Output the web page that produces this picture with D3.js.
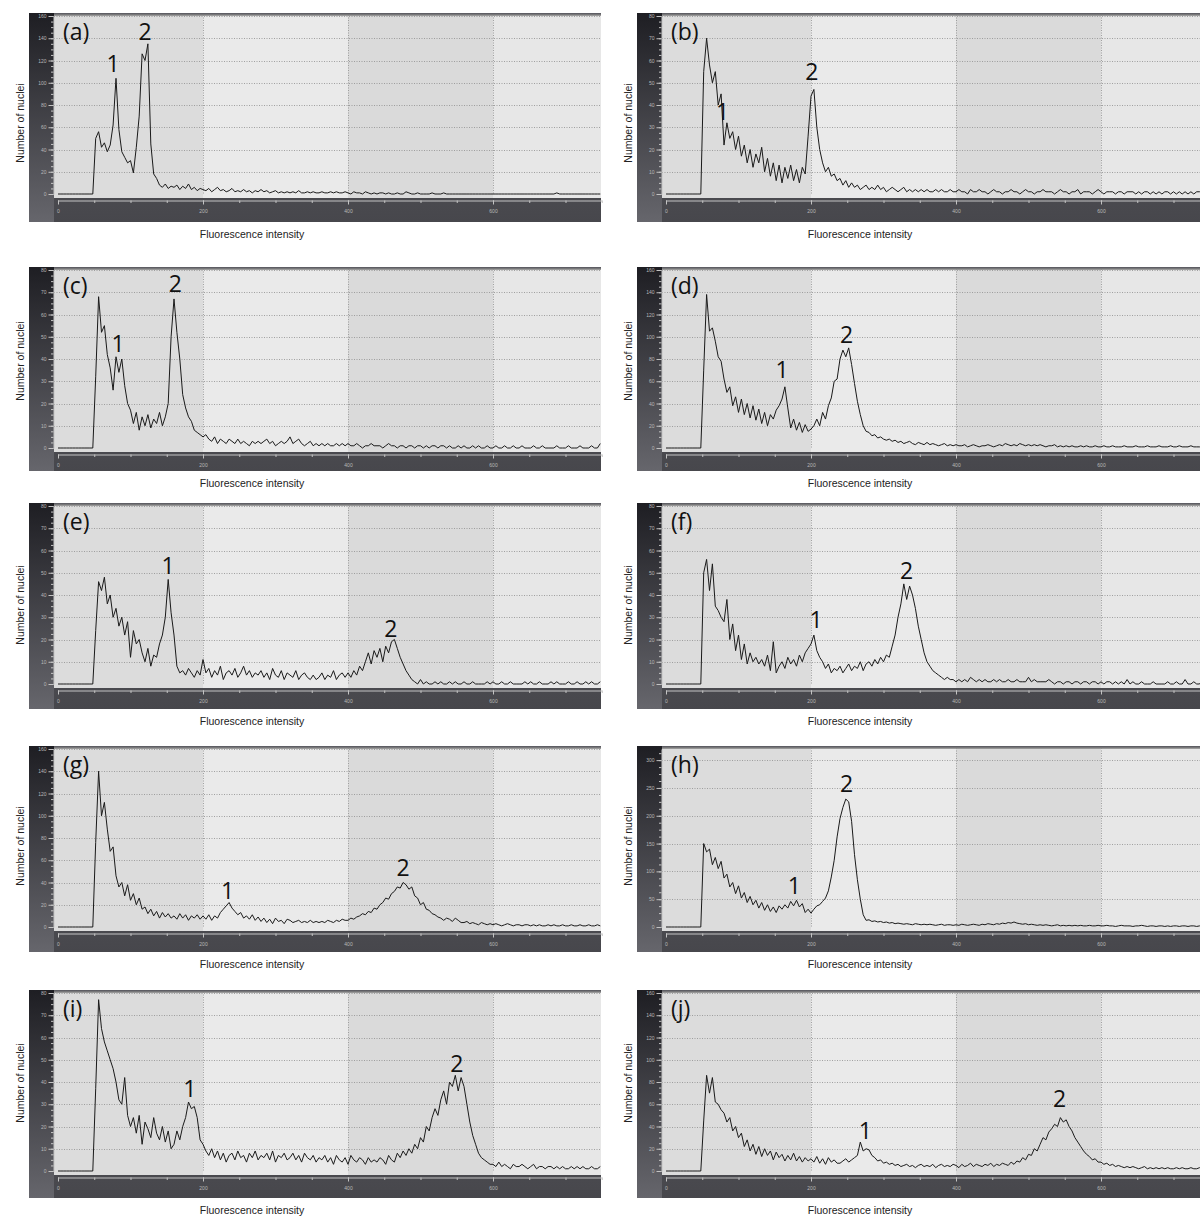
<!DOCTYPE html>
<html lang="en">
<head>
<meta charset="UTF-8">
<title>DNA content histograms</title>
<style>
  body { margin: 0; background: #fff; }
  svg { display: block; font-family: "Liberation Sans", Arial, sans-serif; }
  .grid line { stroke: #8e8e8e; stroke-width: 0.8; stroke-dasharray: 1,1.5; }
  .trace { fill: none; stroke: #1a1a1a; stroke-width: 1; stroke-linejoin: round; }
  .axis path, .axis line { stroke: #c4c4c4; }
  .axis text { fill: #b8b8b8; font-size: 5px; }
  .tag, .peak { font-family: "Open Sans", sans-serif; font-size: 23px; fill: #111; }
  .atitle { font-size: 10.5px; fill: #222; }
</style>
</head>
<body>
<svg id="chart" width="1200" height="1218"></svg>
<script src="https://d3js.org/d3.v7.min.js"></script>
<script>
// histogram channels: 0, 4, 8 ... 748
var channelStep = 4;
var xTicks = [0, 200, 400, 600];
var gridX = [200, 400, 600];
var bandEdges = [0, 200, 400, 600, 750];

var panelNames = ["(a)", "(b)", "(c)", "(d)", "(e)", "(f)", "(g)", "(h)", "(i)", "(j)"];
var yMaxes = [160, 80, 80, 160, 80, 80, 160, 320, 80, 160];
var yTickSteps = [20, 10, 10, 20, 10, 10, 20, 50, 10, 20];

var countsA = [
  0,0,0,0,0,0,0,0,0,0,
  0,0,0,50,56,42,46,38,44,62,
  104,58,38,33,28,30,19,42,70,126,
  120,135,45,18,14,8,6,9,5,7,
  6,8,4,7,5,9,4,6,3,5,
  4,3,5,2,4,6,3,4,2,3,
  5,2,3,2,4,2,3,1,3,2,
  4,2,3,1,2,3,1,2,1,2,
  1,2,1,3,1,1,2,1,2,1,
  1,2,1,1,2,1,2,1,1,2,
  1,0,2,1,1,0,2,1,0,1,
  0,1,1,0,1,0,0,1,0,0,
  2,1,0,0,1,0,0,0,0,1,
  0,0,0,1,0,0,0,0,0,0,
  0,0,0,0,0,0,0,0,0,0,
  0,0,0,0,0,0,0,0,0,0,
  0,0,0,0,0,0,0,0,0,0,
  0,0,1,0,0,0,0,0,0,0,
  0,0,0,0,0,0,0,0
];
var countsB = [
  0,0,0,0,0,0,0,0,0,0,
  0,0,0,55,70,58,50,55,40,45,
  22,32,25,28,20,26,17,22,14,20,
  12,18,14,21,10,16,8,14,6,13,
  5,12,7,13,6,11,5,12,9,26,
  44,47,30,20,14,10,12,8,9,6,
  7,4,6,3,5,3,4,2,3,4,
  2,3,2,4,2,3,1,2,3,2,
  1,2,3,1,2,1,2,1,2,1,
  2,1,1,2,1,2,1,1,2,1,
  1,2,1,1,0,2,1,1,2,1,
  1,0,1,2,1,1,0,1,1,2,
  1,1,0,1,2,1,1,0,1,1,
  2,1,1,1,0,1,2,1,1,0,
  1,1,2,0,1,1,1,0,1,2,
  1,0,1,1,1,0,1,1,0,1,
  1,1,0,1,0,1,1,0,1,0,
  1,0,1,1,0,1,0,1,0,1,
  0,1,0,1,1,0,1,0
];
var countsC = [
  0,0,0,0,0,0,0,0,0,0,
  0,0,0,32,68,52,55,42,36,26,
  41,34,40,28,20,17,11,16,8,14,
  10,15,9,13,11,16,10,14,20,50,
  67,52,40,24,18,14,12,8,7,6,
  5,6,4,3,5,2,4,3,2,4,
  3,2,4,2,3,2,1,3,2,3,
  2,3,4,2,3,1,2,3,2,3,
  5,2,3,4,2,1,2,3,1,2,
  1,2,1,2,1,1,2,1,2,1,
  2,1,1,2,1,0,1,1,2,1,
  1,1,0,1,2,1,1,0,1,1,
  0,1,1,0,1,1,0,1,0,1,
  1,0,1,1,0,1,0,0,1,0,
  1,0,0,1,0,1,0,0,1,0,
  0,1,0,0,1,0,0,1,0,0,
  1,0,0,0,1,0,0,1,0,0,
  0,0,1,0,0,0,1,0,0,0,
  1,0,0,0,1,0,0,2
];
var countsD = [
  0,0,0,0,0,0,0,0,0,0,
  0,0,0,70,138,105,108,96,82,78,
  62,50,55,38,46,32,44,30,40,27,
  38,25,35,22,32,20,30,26,34,38,
  44,55,36,18,26,16,23,14,21,15,
  17,20,26,20,32,26,38,45,60,62,
  80,88,82,90,75,58,42,30,20,15,
  14,11,12,9,10,8,7,8,6,7,
  5,6,4,5,6,4,3,5,4,3,
  5,3,4,3,2,3,4,2,3,2,
  3,2,2,3,1,2,3,2,1,2,
  2,3,2,1,2,3,2,4,3,2,
  3,2,4,3,2,3,2,3,2,3,
  2,1,2,2,3,1,2,1,2,1,
  2,1,1,2,1,2,1,1,2,1,
  1,2,1,1,2,1,1,1,2,1,
  1,1,2,1,1,1,2,1,1,1,
  2,1,1,1,2,1,1,2,1,1,
  1,2,1,1,1,2,1,1
];
var countsE = [
  0,0,0,0,0,0,0,0,0,0,
  0,0,0,24,46,42,48,36,40,30,
  34,26,30,22,28,12,24,18,20,14,
  10,16,8,13,12,18,22,30,47,32,
  22,8,5,6,4,7,5,3,6,4,
  11,5,7,3,6,4,8,2,5,6,
  4,7,3,5,8,4,6,3,5,4,
  6,3,5,2,7,4,3,6,2,5,
  4,3,6,2,4,5,3,2,4,2,
  3,5,2,4,3,6,2,4,5,3,
  5,3,6,4,8,6,10,14,9,15,
  12,16,10,17,14,19,20,16,12,9,
  6,4,2,1,0,2,0,1,0,0,
  1,0,1,0,0,1,0,1,0,0,
  1,0,0,1,0,0,0,0,1,0,
  1,0,0,1,0,0,1,0,0,0,
  0,1,0,1,0,0,1,0,0,0,
  1,0,1,0,0,0,1,0,0,1,
  0,0,1,0,1,0,0,1
];
var countsF = [
  0,0,0,0,0,0,0,0,0,0,
  0,0,0,50,56,42,54,35,33,30,
  28,38,20,27,15,22,11,18,9,14,
  10,12,9,11,8,13,6,19,5,8,
  10,7,12,9,11,8,13,10,14,16,
  18,22,15,12,10,7,9,5,7,6,
  8,5,7,9,6,8,7,10,6,9,
  10,8,11,9,12,10,13,12,17,22,
  30,36,45,38,44,40,34,26,20,14,
  10,8,6,5,4,3,2,3,2,2,
  1,2,1,2,1,3,2,1,2,1,
  2,1,1,2,1,2,1,1,2,1,
  1,2,1,1,1,3,1,2,1,1,
  1,1,2,1,0,1,1,0,1,1,
  0,1,1,0,1,1,0,1,1,0,
  1,0,1,1,0,1,0,1,0,2,
  0,1,0,0,1,0,0,0,1,0,
  0,0,0,1,0,0,1,0,0,2,
  0,0,1,0,0,2,0,0
];
var countsG = [
  0,0,0,0,0,0,0,0,0,0,
  0,0,0,76,140,100,112,88,68,72,
  46,36,40,28,38,24,30,20,26,16,
  18,12,16,10,14,8,13,9,12,8,
  10,7,12,8,11,6,10,8,11,7,
  10,7,11,6,10,8,13,16,19,22,
  17,14,11,13,8,10,7,11,6,9,
  5,8,4,7,3,8,5,6,3,7,
  6,4,5,6,4,5,4,6,4,5,
  4,5,4,6,5,4,6,5,7,6,
  6,8,7,9,10,12,11,14,13,17,
  16,20,22,26,25,30,32,36,35,40,
  38,34,36,28,26,20,22,16,15,12,
  11,9,8,6,8,7,5,8,6,4,
  4,5,3,4,3,2,4,3,2,3,
  2,3,2,1,2,3,2,1,2,2,
  1,2,2,1,2,1,2,1,1,2,
  1,2,1,1,2,1,1,2,1,1,
  2,1,1,2,1,1,2,1
];
var countsH = [
  0,0,0,0,0,0,0,0,0,0,
  0,0,0,150,135,140,112,125,105,118,
  88,95,72,80,60,74,52,62,44,55,
  40,48,34,44,30,40,28,36,26,38,
  32,40,34,46,38,48,36,42,26,32,
  25,32,38,40,46,52,65,90,120,162,
  195,215,230,225,190,130,85,50,22,12,
  13,10,11,9,10,8,9,7,8,6,
  7,6,5,6,5,4,6,5,4,5,
  4,5,4,3,4,5,3,4,4,3,
  4,3,5,4,3,4,5,4,3,5,
  4,6,5,4,6,5,7,6,8,7,
  9,7,6,5,6,4,5,4,3,4,
  3,4,3,2,3,4,2,3,2,3,
  2,3,2,3,2,2,3,2,2,3,
  2,2,3,2,2,1,2,3,2,2,
  2,1,2,2,3,2,1,2,2,1,
  2,2,1,2,1,2,2,1,2,2,
  1,2,2,1,2,1,2,2
];
var countsI = [
  0,0,0,0,0,0,0,0,0,0,
  0,0,0,37,77,64,58,54,50,46,
  40,32,30,42,25,20,24,17,25,12,
  22,19,15,24,17,14,20,13,18,10,
  12,18,14,20,24,31,28,29,24,14,
  12,9,7,10,6,9,5,8,4,7,
  8,5,9,6,7,4,8,6,9,5,
  7,6,8,5,9,4,7,6,8,5,
  6,8,5,7,4,8,6,5,7,4,
  6,5,7,4,6,3,7,5,4,6,
  3,7,5,4,6,5,3,6,4,5,
  4,6,5,3,7,5,4,8,6,9,
  7,10,8,12,10,15,13,20,18,24,
  28,25,32,36,30,40,38,43,36,42,
  38,30,22,16,12,8,6,5,4,3,
  3,2,4,2,3,2,1,3,2,2,
  3,2,1,2,3,1,2,2,1,2,
  2,1,2,1,2,1,1,2,1,2,
  1,2,1,1,2,1,1,2
];
var countsJ = [
  0,0,0,0,0,0,0,0,0,0,
  0,0,0,45,86,70,84,62,60,55,
  52,44,48,36,40,30,34,22,28,18,
  24,15,22,13,20,14,18,10,17,12,
  15,9,14,10,16,9,13,8,12,9,
  11,8,13,7,11,6,12,8,10,7,
  7,9,11,8,10,12,14,26,18,20,
  19,14,12,9,10,7,8,6,7,5,
  6,4,5,6,4,5,3,5,6,4,
  5,4,6,3,5,6,4,5,4,6,
  5,3,6,4,5,7,4,6,5,4,
  6,5,7,4,6,5,7,6,5,8,
  6,9,8,12,10,15,14,20,18,24,
  30,28,35,38,42,40,48,44,46,40,
  36,30,26,22,18,15,13,10,11,8,
  8,6,7,5,6,4,5,4,3,4,
  3,4,3,2,3,4,2,3,2,3,
  2,3,2,3,2,2,3,2,3,2,
  2,3,2,2,3,2,3,2
];

// peak markers "1" and "2": [channel, count] where the numbers sit
var peaksA = [[76, 117], [120, 146]];
var peaksB = [[78, 37], [201, 55]];
var peaksC = [[83, 47], [162, 74]];
var peaksD = [[160, 70], [249, 102]];
var peaksE = [[152, 53], [459, 25]];
var peaksF = [[207, 29], [332, 51]];
var peaksG = [[234, 33], [476, 53]];
var peaksH = [[177, 75], [249, 257]];
var peaksI = [[182, 37], [550, 48]];
var peaksJ = [[275, 36], [543, 65]];

var allCounts = [countsA, countsB, countsC, countsD, countsE, countsF, countsG, countsH, countsI, countsJ];
var allPeaks = [peaksA, peaksB, peaksC, peaksD, peaksE, peaksF, peaksG, peaksH, peaksI, peaksJ];

// page layout
var colX = [29, 637];
var rowY = [13, 267, 503, 746, 990];
var rowH = [209, 204, 206, 206, 208];
var yLabelMid = [123, 361, 605, 846, 1083];
var frameW = 572, stripW = 25;
var bandFills = ["#dcdcdc", "#eaeaea", "#dadada", "#e7e7e7"];

var svg = d3.select("#chart");
var defs = svg.append("defs");
var lg = defs.append("linearGradient").attr("id", "leftStrip")
    .attr("x1", 0).attr("y1", 0).attr("x2", 0).attr("y2", 1);
lg.append("stop").attr("offset", "0%").attr("stop-color", "#1e1e23");
lg.append("stop").attr("offset", "100%").attr("stop-color", "#66666c");
var bg = defs.append("linearGradient").attr("id", "bottomStrip")
    .attr("x1", 0).attr("y1", 0).attr("x2", 0).attr("y2", 1);
bg.append("stop").attr("offset", "0%").attr("stop-color", "#5e5e64");
bg.append("stop").attr("offset", "100%").attr("stop-color", "#47474c");

for (var i = 0; i < 10; i++) {
    plot(i);
}

function plot(i) {
    var col = i % 2, row = Math.floor(i / 2);
    var fx = colX[col], fy = rowY[row], fh = rowH[row];
    var yMax = yMaxes[i], yStep = yTickSteps[i];
    var plotLeft = fx + stripW, plotRight = fx + frameW;
    var plotTop = fy + 2, zeroY = fy + 181, plotBottom = fy + 185;

    var x = d3.scaleLinear().domain([0, 750]).range([fx + 29, fx + 29 + 750 * 0.725]);
    var y = d3.scaleLinear().domain([0, yMax]).range([zeroY, fy + 3]);

    var g = svg.append("g");

    // dark frame
    g.append("rect").attr("x", fx).attr("y", fy).attr("width", frameW).attr("height", fh)
        .attr("fill", "url(#bottomStrip)");
    g.append("rect").attr("x", fx).attr("y", fy).attr("width", stripW).attr("height", fh)
        .attr("fill", "url(#leftStrip)");

    // shaded bands of the plot area
    g.selectAll(".band").data(d3.range(bandEdges.length - 1)).enter().append("rect")
        .attr("x", function (k) { return k === 0 ? plotLeft : x(bandEdges[k]); })
        .attr("y", plotTop)
        .attr("width", function (k) {
            var x0 = k === 0 ? plotLeft : x(bandEdges[k]);
            return Math.min(x(bandEdges[k + 1]), plotRight) - x0;
        })
        .attr("height", plotBottom - plotTop)
        .attr("fill", function (k) { return bandFills[k]; });
    g.append("line").attr("x1", plotLeft).attr("x2", plotRight)
        .attr("y1", plotTop).attr("y2", plotTop)
        .attr("stroke", "#808080").attr("stroke-width", 1.5);

    // dotted grid
    var yt = d3.range(0, yMax + 0.01, yStep);
    var grid = g.append("g").attr("class", "grid");
    grid.selectAll(".h").data(yt.slice(1)).enter().append("line")
        .attr("x1", plotLeft).attr("x2", plotRight)
        .attr("y1", function (d) { return Math.round(y(d)) + 0.5; })
        .attr("y2", function (d) { return Math.round(y(d)) + 0.5; });
    grid.selectAll(".v").data(gridX).enter().append("line")
        .attr("x1", function (d) { return Math.round(x(d)) + 0.5; })
        .attr("x2", function (d) { return Math.round(x(d)) + 0.5; })
        .attr("y1", plotTop).attr("y2", zeroY);

    // axes in the dark strips
    g.append("g").attr("class", "axis")
        .attr("transform", "translate(" + (plotLeft - 0.5) + ",0)")
        .call(d3.axisLeft(y).tickValues(yt).tickSize(5).tickSizeOuter(0).tickPadding(2));
    g.append("g").attr("class", "axis")
        .attr("transform", "translate(" + (plotLeft - 0.5) + ",0)")
        .call(d3.axisLeft(y).tickValues(d3.range(0, yMax + 0.01, yStep / 4)).tickSize(2.5).tickFormat(""))
        .select(".domain").remove();
    g.append("g").attr("class", "axis")
        .attr("transform", "translate(0," + (fy + 187.5) + ")")
        .call(d3.axisBottom(x).tickValues(xTicks).tickSize(4).tickSizeOuter(0).tickPadding(5));
    g.append("g").attr("class", "axis")
        .attr("transform", "translate(0," + (fy + 187.5) + ")")
        .call(d3.axisBottom(x).tickValues(d3.range(0, 751, 50)).tickSize(2.5).tickFormat(""))
        .select(".domain").remove();

    // histogram trace
    defs.append("clipPath").attr("id", "clip" + i).append("rect")
        .attr("x", plotLeft).attr("y", plotTop).attr("width", plotRight - plotLeft)
        .attr("height", plotBottom - plotTop);
    var line = d3.line()
        .x(function (d, k) { return x(k * channelStep); })
        .y(function (d) { return y(d); });
    g.append("path").datum(allCounts[i])
        .attr("class", "trace")
        .attr("clip-path", "url(#clip" + i + ")")
        .attr("d", line);

    // labels
    g.append("text").attr("class", "tag")
        .attr("x", fx + 34).attr("y", fy + 27).text(panelNames[i]);
    g.selectAll(".peak").data(allPeaks[i]).enter().append("text")
        .attr("class", "peak")
        .attr("text-anchor", "middle")
        .attr("dy", "0.36em")
        .attr("x", function (d) { return x(d[0]); })
        .attr("y", function (d) { return y(d[1]); })
        .text(function (d, k) { return k + 1; });

    g.append("text").attr("class", "atitle")
        .attr("text-anchor", "middle")
        .attr("x", fx + 223).attr("y", fy + fh + 16)
        .text("Fluorescence intensity");
    g.append("text").attr("class", "atitle")
        .attr("text-anchor", "middle")
        .attr("transform", "translate(" + (fx - 5) + "," + yLabelMid[row] + ") rotate(-90)")
        .text("Number of nuclei");
}
</script>
</body>
</html>
